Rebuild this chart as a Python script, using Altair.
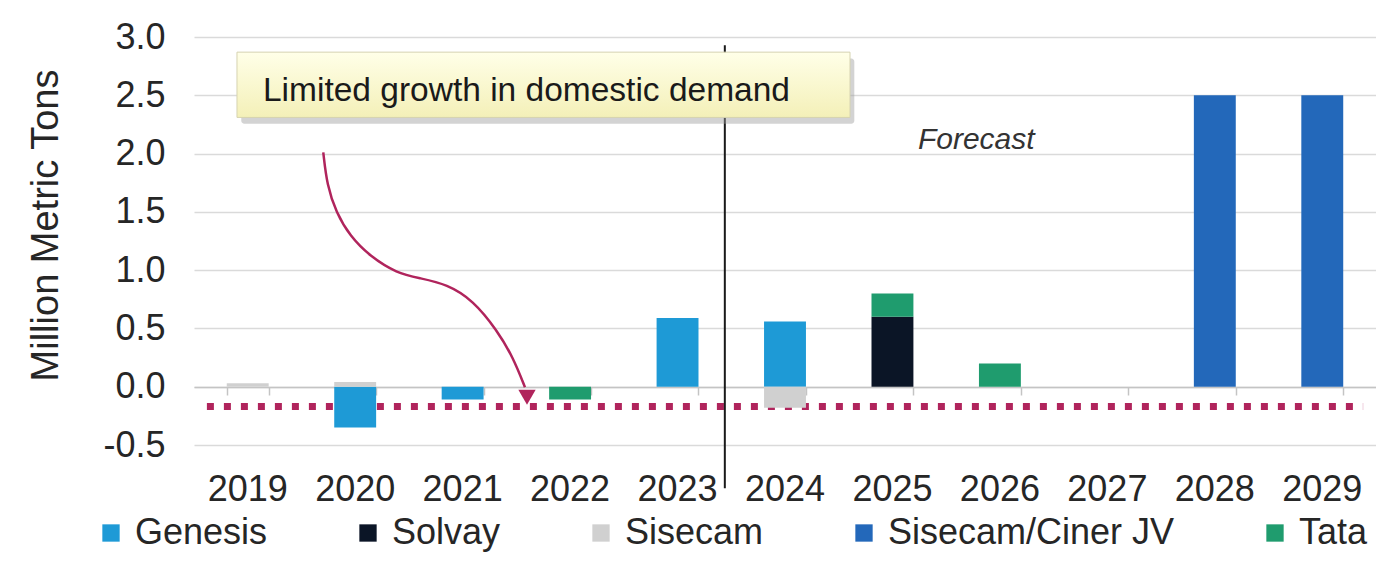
import altair as alt
import pandas as pd

# ---------------- data ----------------
years = ["2019", "2020", "2021", "2022", "2023", "2024", "2025", "2026", "2027", "2028", "2029"]
series = ["Genesis", "Solvay", "Sisecam", "Sisecam/Ciner JV", "Tata"]
colors = ["#1E9AD6", "#0B1526", "#D0D0D0", "#2368BA", "#1F9C6E"]

genesis = [0.0, -0.35, -0.11, 0.0, 0.59, 0.56, 0.0, 0.0, 0.0, 0.0, 0.0]
solvay = [0.0, 0.0, 0.0, 0.0, 0.0, 0.0, 0.60, 0.0, 0.0, 0.0, 0.0]
sisecam = [0.03, 0.04, 0.0, 0.0, 0.0, -0.18, 0.0, 0.0, 0.0, 0.0, 0.0]
sisecam_ciner = [0.0, 0.0, 0.0, 0.0, 0.0, 0.0, 0.0, 0.0, 0.0, 2.5, 2.5]
tata = [0.0, 0.0, 0.0, -0.11, 0.0, 0.0, 0.20, 0.20, 0.0, 0.0, 0.0]

y_ticks = [-0.5, 0.0, 0.5, 1.0, 1.5, 2.0, 2.5, 3.0]

# annotation positions (x in category units 0..11, y in data units)
threshold = -0.17
threshold_x = [0.12, 10.88]
box_x = [0.40, 6.105]
box_y = [2.31, 2.87]
box_text = "Limited growth in domestic demand"
box_text_pos = [0.642, 2.54]
divider_x = 4.94
divider_y = [2.93, -0.87]
forecast_text = "Forecast"
forecast_pos = [7.28, 2.12]
curve_x = [1.203, 1.238, 1.322, 1.452, 1.638, 1.889, 2.103, 2.355, 2.597, 2.820, 2.969, 3.080]
curve_y = [2.011, 1.728, 1.497, 1.291, 1.119, 0.973, 0.931, 0.879, 0.742, 0.485, 0.253, -0.004]
arrow_tip = [3.099, -0.09]

# ---------------- frames ----------------
all_vals = [genesis, solvay, sisecam, sisecam_ciner, tata]
rows = []
for i, (s, vals) in enumerate(zip(series, all_vals)):
    for yr, v in zip(years, vals):
        if v != 0:
            rows.append({"year": yr, "series": s, "value": v, "order": i})
df = pd.DataFrame(rows)

W, H = 1182, 408
FONT = "Liberation Sans"
TXT = "#262626"
ACC = "#B0245C"

xband = alt.Scale(domain=years, paddingInner=0.61, paddingOuter=0.305)
yscale = alt.Scale(domain=[-0.5, 3.0], nice=False, zero=False)
uscale = alt.Scale(domain=[0, 11], nice=False, zero=False)

y_axis = alt.Axis(title="Million Metric Tons", values=y_ticks,
                  labelExpr="replace(format(datum.value, '.1f'), '\u2212', '-')",
                  labelFontSize=36, labelColor=TXT, labelPadding=29,
                  ticks=False, domain=False, gridColor="#DADADA", gridWidth=1.5,
                  titleFontSize=38, titleFontWeight="normal", titleColor=TXT,
                  titleX=-148, titleY=188, titleAngle=-90,
                  titleBaseline="middle", titleAlign="center")


def Y(field):
    return alt.Y(field, scale=yscale, axis=y_axis)


bars = alt.Chart(df).mark_bar().encode(
    x=alt.X("year:N", scale=xband, sort=years,
            axis=alt.Axis(orient="bottom", title=None, labelFontSize=36, labelColor=TXT,
                          labelPadding=27, ticks=False, domain=False, grid=False, labelAngle=0)),
    y=alt.Y("value:Q", stack="zero", scale=yscale, axis=y_axis),
    color=alt.Color("series:N", scale=alt.Scale(domain=series, range=colors),
                    legend=alt.Legend(title=None, orient="none", legendX=-101, legendY=478,
                                      direction="horizontal", columns=5, symbolType="square",
                                      symbolSize=300, symbolStrokeWidth=0, labelFontSize=36,
                                      labelColor=TXT, labelOffset=6, columnPadding=82,
                                      labelLimit=500)),
    order=alt.Order("order:Q"),
)

zero_axis = alt.Chart(pd.DataFrame({"year": years, "v": [0.0] * len(years)})).mark_point(opacity=0).encode(
    x=alt.X("year:N", scale=xband, sort=years,
            axis=alt.Axis(orient="bottom", title=None, labels=False, ticks=True, tickBand="extent",
                          tickSize=8, tickColor="#C4C4C4", tickWidth=1.5, domain=True,
                          domainColor="#C4C4C4", domainWidth=1.5, grid=False, offset=-58)),
    y=Y("v:Q"),
)

thr = alt.Chart(pd.DataFrame({"x": [threshold_x[0]], "x2": [threshold_x[1]], "y": [threshold]})).mark_rule(
    color=ACC, strokeWidth=7, strokeDash=[7, 10], strokeCap="butt"
).encode(
    x=alt.X("x:Q", scale=uscale, axis=None), x2="x2:Q",
    y=Y("y:Q"),
)

divider = alt.Chart(pd.DataFrame({"x": [divider_x], "y": [divider_y[0]], "y2": [divider_y[1]]})).mark_rule(
    color="#1A1A1A", strokeWidth=2
).encode(
    x=alt.X("x:Q", scale=uscale, axis=None),
    y=Y("y:Q"), y2="y2:Q",
)

box_df = pd.DataFrame({"x": [box_x[0]], "x2": [box_x[1]], "y": [box_y[0]], "y2": [box_y[1]]})
shadow = alt.Chart(box_df).transform_calculate(
    sx="datum.x + 0.04", sx2="datum.x2 + 0.04", sy="datum.y - 0.055", sy2="datum.y2 - 0.055"
).mark_rect(color="#9E9E9E", opacity=0.45, cornerRadius=3).encode(
    x=alt.X("sx:Q", scale=uscale, axis=None), x2="sx2:Q",
    y=Y("sy:Q"), y2="sy2:Q",
)
box = alt.Chart(box_df).mark_rect(
    color=alt.Gradient(gradient="linear",
                       stops=[alt.GradientStop(color="#FFFFE8", offset=0),
                              alt.GradientStop(color="#F4F0B8", offset=1)],
                       x1=0, x2=0, y1=0, y2=1),
    stroke="#D6D3B0", strokeWidth=1,
).encode(
    x=alt.X("x:Q", scale=uscale, axis=None), x2="x2:Q",
    y=Y("y:Q"), y2="y2:Q",
)
box_label = alt.Chart(pd.DataFrame({"x": [box_text_pos[0]], "y": [box_text_pos[1]], "t": [box_text]})).mark_text(
    align="left", baseline="middle", fontSize=33.5, color="#1A1A1A"
).encode(
    x=alt.X("x:Q", scale=uscale, axis=None),
    y=Y("y:Q"), text="t:N",
)
forecast = alt.Chart(pd.DataFrame({"x": [forecast_pos[0]], "y": [forecast_pos[1]], "t": [forecast_text]})).mark_text(
    align="center", baseline="middle", fontSize=30, fontStyle="italic", color="#333333"
).encode(
    x=alt.X("x:Q", scale=uscale, axis=None),
    y=Y("y:Q"), text="t:N",
)
curve = alt.Chart(pd.DataFrame({"x": curve_x, "y": curve_y, "i": list(range(len(curve_x)))})).mark_line(
    color=ACC, strokeWidth=2.5, interpolate="basis"
).encode(
    x=alt.X("x:Q", scale=uscale, axis=None),
    y=Y("y:Q"), order="i:Q",
)
arrow = alt.Chart(pd.DataFrame({"x": [arrow_tip[0]], "y": [arrow_tip[1]]})).mark_point(
    shape="triangle-down", size=300, filled=True, color=ACC, opacity=1
).encode(
    x=alt.X("x:Q", scale=uscale, axis=None),
    y=Y("y:Q"),
)

chart = alt.layer(
    thr, bars, zero_axis, divider, shadow, box, box_label, forecast, curve, arrow
).resolve_scale(x="independent").properties(
    width=W, height=H,
    autosize=alt.AutoSizeParams(type="none"),
    padding={"left": 186, "top": 29, "right": 0, "bottom": 109},
    background="white",
).configure(font=FONT).configure_view(stroke=None)

chart.save("out.html", embed_options={"renderer": "svg", "actions": False})
